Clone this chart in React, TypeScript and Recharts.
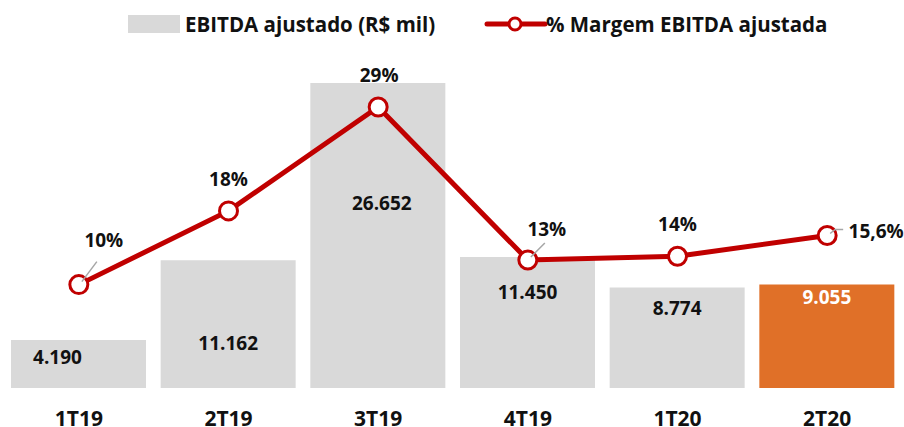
import React from 'react'
import { ComposedChart, Bar, Line, XAxis, YAxis, Legend, LabelList, Cell } from 'recharts'

const quarters = ['1T19', '2T19', '3T19', '4T19', '1T20', '2T20']
const ebitda = [4190, 11162, 26652, 11450, 8774, 9055]
const margem = [10.2, 18.0, 29.0, 12.8, 13.2, 15.4]
const ebitdaLabels = ['4.190', '11.162', '26.652', '11.450', '8.774', '9.055']
const margemLabels = ['10%', '18%', '29%', '13%', '14%', '15,6%']

const data = quarters.map((q, i) => ({ q, ebitda: ebitda[i], margem: margem[i] }))

const FONT = '"Open Sans", "Noto Sans", sans-serif'
const RED = '#C00000'
const GREY = '#D9D9D9'
const ORANGE = '#E07028'

// label placement tweaks (relative to the bar top / line point)
const BAR_LABEL_DY = [17, 83, 120, 35, 20, 13]
const BAR_LABEL_DX = [-21, 0, 4, 0, 0, 0]
const LINE_LABEL_OFF = [
  [25, -45],
  [0, -32],
  [1, -32],
  [19, -31],
  [0, -32],
  [49, -4],
]
const LEADERS: Record<number, number[][]> = {
  0: [[3, -3], [18, -23]],
  3: [[3, -3], [17, -17]],
  5: [[3, -2], [8, -6], [16, -6]],
}

function BarLabel(props: any) {
  const { x, y, width, index } = props
  return (
    <text
      x={x + width / 2 + BAR_LABEL_DX[index]}
      y={y + BAR_LABEL_DY[index]}
      textAnchor="middle"
      dominantBaseline="central"
      fontFamily={FONT}
      fontWeight={700}
      fontSize={19}
      fill={index === 5 ? '#fff' : '#111'}
    >
      {ebitdaLabels[index]}
    </text>
  )
}

function LineLabel(props: any) {
  const { x, y, index } = props
  const [dx, dy] = LINE_LABEL_OFF[index]
  const lead = LEADERS[index]
  return (
    <g>
      {lead && (
        <polyline
          points={lead.map(([a, b]) => `${x + a},${y + b}`).join(' ')}
          fill="none"
          stroke="#A6A6A6"
          strokeWidth={1.5}
        />
      )}
      <text
        x={x + dx}
        y={y + dy}
        textAnchor="middle"
        dominantBaseline="central"
        fontFamily={FONT}
        fontWeight={700}
        fontSize={19}
        fill="#111"
      >
        {margemLabels[index]}
      </text>
    </g>
  )
}

function LegendBox() {
  return (
    <div style={{ position: 'relative', width: 904, height: 50, fontFamily: FONT, fontWeight: 700, fontSize: 20.5, color: '#111' }}>
      <div style={{ position: 'absolute', left: 128, top: 15, width: 52, height: 18, background: GREY }} />
      <div style={{ position: 'absolute', left: 185, top: 10, whiteSpace: 'nowrap', lineHeight: '28px' }}>EBITDA ajustado (R$ mil)</div>
      <svg style={{ position: 'absolute', left: 484, top: 12 }} width={64} height={24}>
        <line x1={3} y1={12} x2={61} y2={12} stroke={RED} strokeWidth={5} strokeLinecap="round" />
        <circle cx={31} cy={12} r={6} fill="#fff" stroke={RED} strokeWidth={3} />
      </svg>
      <div style={{ position: 'absolute', left: 546, top: 10, whiteSpace: 'nowrap', lineHeight: '28px' }}>% Margem EBITDA ajustada</div>
    </div>
  )
}

export default function App() {
  return (
    <div style={{ position: 'absolute', left: 0, top: 0, width: 904, height: 427, background: '#fff' }}>
      <ComposedChart width={904} height={427} data={data} margin={{ top: 10, right: 2, bottom: 0, left: 4 }}>
        <XAxis
          dataKey="q"
          height={39}
          axisLine={false}
          tickLine={false}
          tickSize={0}
          tickMargin={23}
          tick={{ fontFamily: FONT, fontWeight: 700, fontSize: 21, fill: '#111' }}
          interval={0}
        />
        <YAxis yAxisId="l" hide domain={[0, 28662]} />
        <YAxis yAxisId="r" hide orientation="right" domain={[-0.74, 33.97]} />
        <Legend verticalAlign="top" height={50} content={() => <LegendBox />} wrapperStyle={{ top: 0, left: 0 }} />
        <Bar yAxisId="l" dataKey="ebitda" barSize={135} isAnimationActive={false}>
          {data.map((_, i) => (
            <Cell key={i} fill={i === 5 ? ORANGE : GREY} />
          ))}
          <LabelList dataKey="ebitda" content={BarLabel} />
        </Bar>
        <Line
          yAxisId="r"
          dataKey="margem"
          stroke={RED}
          strokeWidth={5}
          isAnimationActive={false}
          dot={{ r: 9, fill: '#fff', stroke: RED, strokeWidth: 3 }}
          activeDot={false}
        >
          <LabelList dataKey="margem" content={LineLabel} />
        </Line>
      </ComposedChart>
    </div>
  )
}
